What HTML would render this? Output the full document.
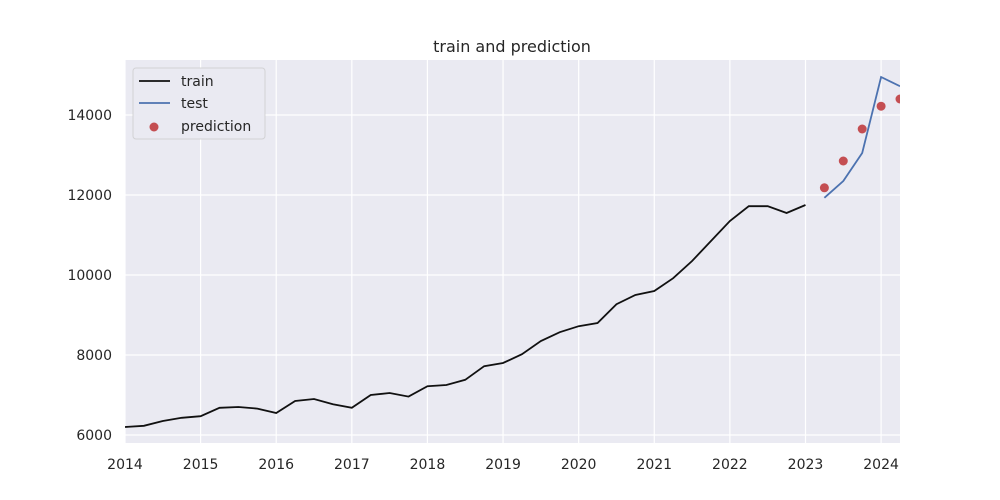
<!DOCTYPE html>
<html><head><meta charset="utf-8"><style>
body{margin:0;background:#fff;}
svg{display:block;font-family:"DejaVu Sans","Liberation Sans",sans-serif;}
</style></head><body>
<svg id="chart" width="1000" height="500" viewBox="0 0 1000 500">
<defs><clipPath id="pc"><rect x="125" y="60" width="775" height="383"/></clipPath></defs>
<rect x="125" y="60" width="775" height="383" fill="#eaeaf2"/>
<g id="grid"></g><g id="series" clip-path="url(#pc)"></g><g id="ticks"></g>
<text x="512" y="52" text-anchor="middle" font-size="16" fill="#262626">train and prediction</text>
<g>
<rect x="133" y="68" width="132" height="71" rx="3" fill="#eaeaf2" stroke="#cccccc" stroke-opacity="0.8"/>
<line x1="139" y1="81" x2="170" y2="81" stroke="#111" stroke-width="1.8"/>
<text x="181" y="86" font-size="14" fill="#262626">train</text>
<line x1="139" y1="103" x2="170" y2="103" stroke="#4c72b0" stroke-width="1.8"/>
<text x="181" y="108" font-size="14" fill="#262626">test</text>
<circle cx="154" cy="127" r="4.5" fill="#c44e52"/>
<text x="181" y="131" font-size="14" fill="#262626">prediction</text>
</g>
</svg>
<script>
const trainValues=[6200,6230,6350,6430,6470,6680,6700,6660,6550,6850,6900,6770,6680,7000,7050,6960,7220,7250,7380,7720,7800,8020,8350,8570,8720,8800,9270,9500,9600,9920,10350,10850,11350,11720,11720,11550,11750];
const testValues=[11930,12350,13050,14950,14720];
const predValues=[12180,12850,13650,14220,14400];
const xTicks=[2014,2015,2016,2017,2018,2019,2020,2021,2022,2023,2024];
const yTicks=[6000,8000,10000,12000,14000];
const NS="http://www.w3.org/2000/svg";
const L=125,R=900,T=60,B=443;
const x=t=>L+(t-2014)/(10.25)*(R-L);
const y=v=>B-(v-5800)/(15375-5800)*(B-T);
function mk(tag,attrs,parent){const e=document.createElementNS(NS,tag);for(const k in attrs)e.setAttribute(k,attrs[k]);parent.appendChild(e);return e;}
const grid=document.getElementById('grid'),ser=document.getElementById('series'),tk=document.getElementById('ticks');
xTicks.forEach(t=>{
 const g=mk('line',{x1:x(t),x2:x(t),y1:T,y2:B,stroke:'#fff','stroke-width':1.2},grid);
 
 
 const lb=mk('text',{x:x(t),y:469,'text-anchor':'middle','font-size':14,fill:'#262626'},tk);
 lb.textContent=t;
 
 
});
yTicks.forEach(v=>{
 const g=mk('line',{x1:L,x2:R,y1:y(v),y2:y(v),stroke:'#fff','stroke-width':1.2},grid);
 
 
 const lb=mk('text',{x:112,y:y(v)+5,'text-anchor':'end','font-size':14,fill:'#262626'},tk);
 lb.textContent=v;
 
 
});
const tr=mk('polyline',{points:trainValues.map((v,i)=>x(2014+i*0.25)+','+y(v)).join(' '),fill:'none',stroke:'#111','stroke-width':1.8},ser);


const te=mk('polyline',{points:testValues.map((v,i)=>x(2023.25+i*0.25)+','+y(v)).join(' '),fill:'none',stroke:'#4c72b0','stroke-width':1.8},ser);


predValues.forEach((v,i)=>{
 const c=mk('circle',{cx:x(2023.25+i*0.25),cy:y(v),r:4.5,fill:'#c44e52'},ser);
 
 
});
</script>
</body></html>
